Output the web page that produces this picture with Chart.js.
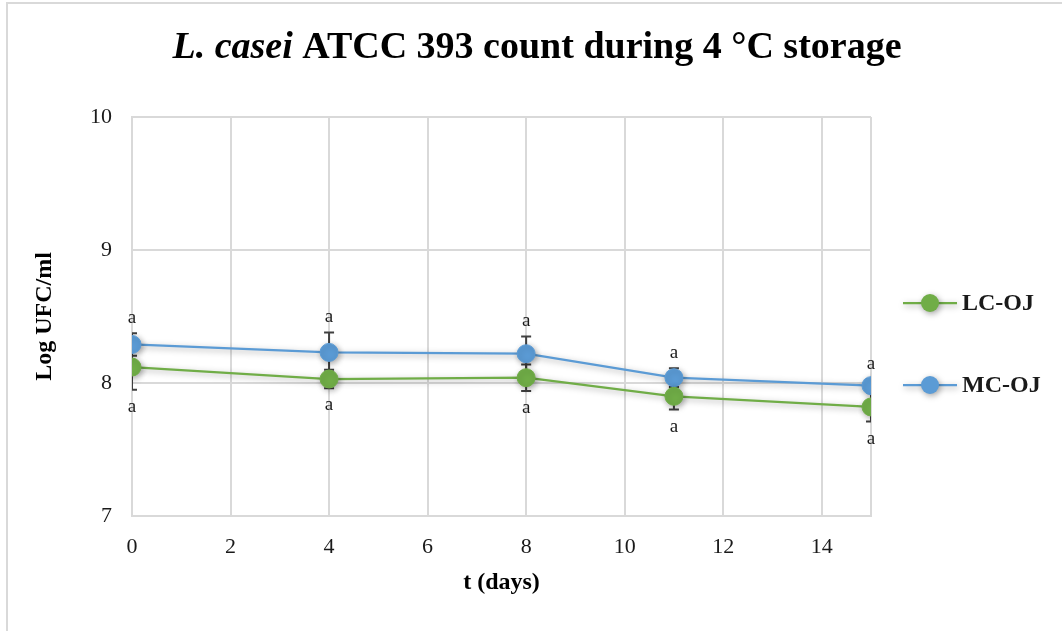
<!DOCTYPE html>
<html><head><meta charset="utf-8">
<script src="https://cdn.jsdelivr.net/npm/chart.js@4.4.1/dist/chart.umd.min.js"></script>
<style>
html,body{margin:0;padding:0;background:#fff;}
#wrap{position:relative;width:1062px;height:631px;overflow:hidden;background:#fff;}
#frame{position:absolute;left:6px;top:2px;width:2000px;height:2000px;border-left:2px solid #D9D9D9;border-top:2px solid #D9D9D9;}
canvas{position:absolute;left:0;top:0;}
</style></head><body>
<div id="wrap"><div id="frame"></div><canvas id="c" width="1062" height="631"></canvas></div>
<script>
// ---- data ----
const days = [0, 4, 8, 11, 15];
const lcOJ = [8.12, 8.03, 8.04, 7.90, 7.82];
const lcOJErr = [0.17, 0.07, 0.10, 0.10, 0.11];
const mcOJ = [8.29, 8.23, 8.22, 8.04, 7.98];
const mcOJErr = [0.085, 0.15, 0.13, 0.07, 0.05];
const lcOJLetters = ['a', 'a', 'a', 'a', 'a'];
const mcOJLetters = ['a', 'a', 'a', 'a', 'a'];
const xTicks = [0, 2, 4, 6, 8, 10, 12, 14];
const xMax = 15;
const yTicks = [7, 8, 9, 10];
const titleItalic = 'L. casei';
const titleRest = ' ATCC 393 count during 4 °C storage';
const xTitle = 't (days)';
const yTitle = 'Log UFC/ml';

const SERIF = '"Liberation Serif", "Times New Roman", serif';
const GRID = '#D9D9D9';
const TXT = '#1a1a1a';

const shadowPlugin = {
  id: 'shadow',
  beforeDatasetsDraw(chart) {
    const ctx = chart.ctx;
    ctx.save();
    ctx.shadowColor = 'rgba(0,0,0,0.35)';
    ctx.shadowBlur = 6;
    ctx.shadowOffsetX = 1.5;
    ctx.shadowOffsetY = 2;
  },
  afterDatasetsDraw(chart) { chart.ctx.restore(); }
};

const errorBarPlugin = {
  id: 'errorBars',
  beforeDatasetsDraw(chart) {
    const {ctx, chartArea: a, scales: {x, y}} = chart;
    ctx.save();
    ctx.beginPath();
    ctx.rect(a.left, a.top, a.right - a.left, a.bottom - a.top);
    ctx.clip();
    ctx.strokeStyle = '#404040';
    ctx.lineWidth = 2;
    chart.data.datasets.forEach(ds => {
      ds.data.forEach((p, i) => {
        const e = ds.err[i];
        const px = x.getPixelForValue(p.x);
        const y1 = y.getPixelForValue(p.y + e);
        const y2 = y.getPixelForValue(p.y - e);
        ctx.beginPath();
        ctx.moveTo(px, y1); ctx.lineTo(px, y2);
        ctx.moveTo(px - 5, y1); ctx.lineTo(px + 5, y1);
        ctx.moveTo(px - 5, y2); ctx.lineTo(px + 5, y2);
        ctx.stroke();
      });
    });
    ctx.restore();
  }
};

const letterPlugin = {
  id: 'letters',
  afterDatasetsDraw(chart) {
    const {ctx, scales: {x, y}} = chart;
    ctx.save();
    ctx.font = '19px ' + SERIF;
    ctx.fillStyle = TXT;
    ctx.textAlign = 'center';
    ctx.textBaseline = 'middle';
    chart.data.datasets.forEach(ds => {
      ds.data.forEach((p, i) => {
        const px = x.getPixelForValue(p.x);
        let py;
        if (ds.letterPos === 'above') py = y.getPixelForValue(p.y + ds.err[i]) - 15;
        else py = y.getPixelForValue(p.y - ds.err[i]) + 17;
        ctx.fillText(ds.letters[i], px, py);
      });
    });
    ctx.restore();
  }
};

const titlePlugin = {
  id: 'mixedTitle',
  afterDraw(chart) {
    const ctx = chart.ctx;
    ctx.save();
    const fi = 'italic bold 38px ' + SERIF;
    const fb = 'bold 38px ' + SERIF;
    ctx.font = fi; const w1 = ctx.measureText(titleItalic).width;
    ctx.font = fb; const w2 = ctx.measureText(titleRest).width;
    const cx = 537;
    let sx = cx - (w1 + w2) / 2;
    ctx.fillStyle = '#000';
    ctx.textBaseline = 'alphabetic';
    ctx.textAlign = 'left';
    ctx.font = fi; ctx.fillText(titleItalic, sx, 58);
    ctx.font = fb; ctx.fillText(titleRest, sx + w1, 58);
    ctx.restore();
  }
};

const legendPlugin = {
  id: 'lineLegend',
  afterDraw(chart) {
    const ctx = chart.ctx;
    ctx.save();
    chart.data.datasets.forEach((ds, i) => {
      const yy = 303 + i * 82;
      ctx.save();
      ctx.shadowColor = 'rgba(0,0,0,0.35)';
      ctx.shadowBlur = 6; ctx.shadowOffsetX = 1.5; ctx.shadowOffsetY = 2;
      ctx.strokeStyle = ds.borderColor; ctx.lineWidth = 2.25;
      ctx.beginPath(); ctx.moveTo(903, yy); ctx.lineTo(957, yy); ctx.stroke();
      ctx.fillStyle = ds.backgroundColor;
      ctx.beginPath(); ctx.arc(930, yy, 9, 0, Math.PI * 2); ctx.fill();
      ctx.restore();
      ctx.font = 'bold 24px ' + SERIF;
      ctx.fillStyle = TXT;
      ctx.textAlign = 'left'; ctx.textBaseline = 'middle';
      ctx.fillText(ds.label, 962, yy + 1);
    });
    ctx.restore();
  }
};

const tickFont = {family: SERIF, size: 22};
const axisTitleFont = {family: SERIF, size: 24, weight: 'bold'};

new Chart(document.getElementById('c'), {
  type: 'line',
  data: {
    datasets: [
      {
        label: 'LC-OJ',
        data: days.map((d, i) => ({x: d, y: lcOJ[i]})),
        err: lcOJErr, letters: lcOJLetters, letterPos: 'below',
        borderColor: '#70AD47', backgroundColor: '#70AD47',
        pointBackgroundColor: '#70AD47', pointBorderColor: '#70AD47',
        borderWidth: 2.25, pointRadius: 9, pointHoverRadius: 9, pointBorderWidth: 1, tension: 0
      },
      {
        label: 'MC-OJ',
        data: days.map((d, i) => ({x: d, y: mcOJ[i]})),
        err: mcOJErr, letters: mcOJLetters, letterPos: 'above',
        borderColor: '#5B9BD5', backgroundColor: '#5B9BD5',
        pointBackgroundColor: '#5B9BD5', pointBorderColor: '#5B9BD5',
        borderWidth: 2.25, pointRadius: 9, pointHoverRadius: 9, pointBorderWidth: 1, tension: 0
      }
    ]
  },
  options: {
    responsive: false,
    animation: false,
    devicePixelRatio: 1,
    layout: {padding: {top: 117, left: 30, right: 191, bottom: 34}},
    plugins: {legend: {display: false}, title: {display: false}, tooltip: {enabled: false}},
    scales: {
      x: {
        type: 'linear', min: 0, max: xMax,
        afterBuildTicks: s => { s.ticks = xTicks.concat([xMax]).map(v => ({value: v})); },
        afterFit: s => { s.height = 81; },
        ticks: {callback: v => xTicks.includes(v) ? String(v) : '', font: tickFont, color: TXT, padding: 18, maxRotation: 0, autoSkip: false},
        grid: {color: GRID, lineWidth: 2, drawTicks: false},
        border: {color: GRID, width: 2},
        title: {display: true, text: xTitle, font: axisTitleFont, color: '#000', padding: {top: 10, bottom: 0}}
      },
      y: {
        type: 'linear', min: 7, max: 10,
        afterBuildTicks: s => { s.ticks = yTicks.map(v => ({value: v})); },
        afterFit: s => { s.width = 102; },
        ticks: {font: tickFont, color: TXT, padding: 20},
        grid: {color: GRID, lineWidth: 2, drawTicks: false},
        border: {color: GRID, width: 2},
        title: {display: true, text: yTitle, font: axisTitleFont, color: '#000', padding: {top: 0, bottom: 0}}
      }
    }
  },
  plugins: [errorBarPlugin, shadowPlugin, letterPlugin, titlePlugin, legendPlugin]
});
</script>
</body></html>
